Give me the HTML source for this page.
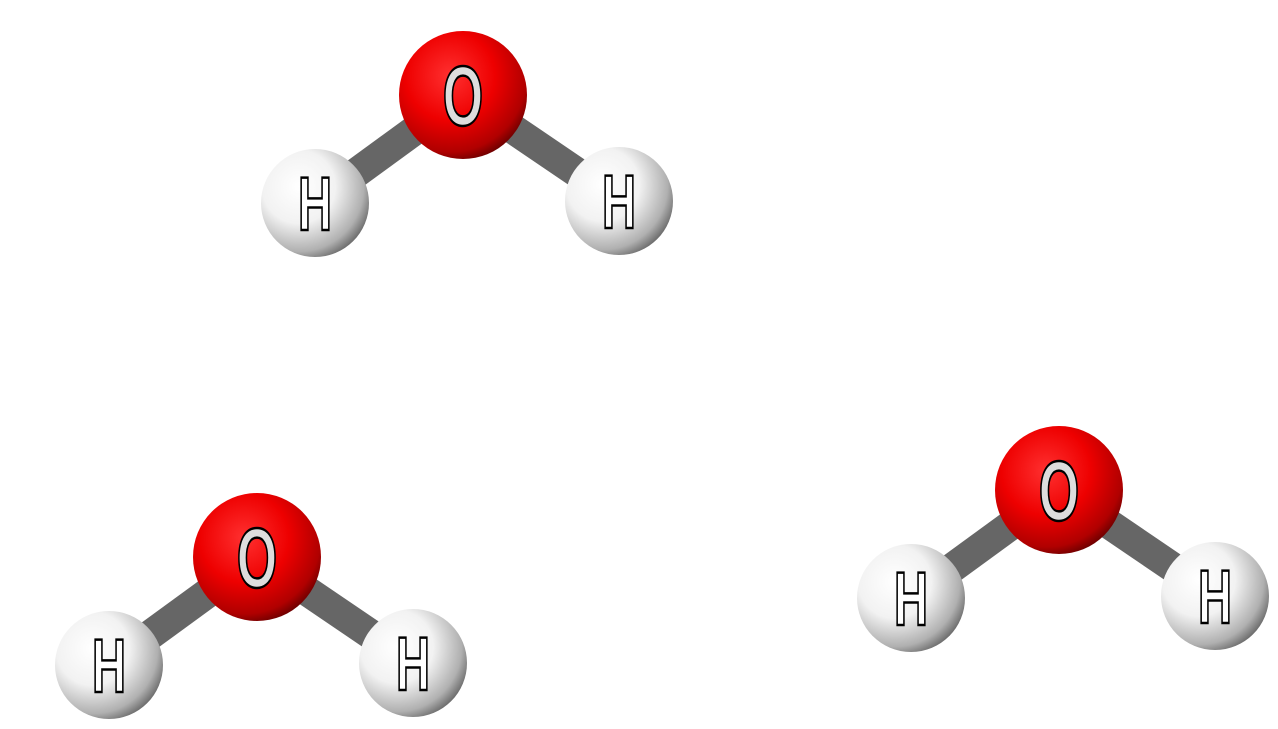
<!DOCTYPE html>
<html><head><meta charset="utf-8"><style>
html,body{margin:0;padding:0;background:#fff;width:1278px;height:729px;overflow:hidden}
svg{display:block}
text{font-family:"Liberation Sans",sans-serif;font-weight:bold}
</style></head><body>
<svg width="1278" height="729" viewBox="0 0 1278 729">
<defs>
<radialGradient id="og" cx="0.4" cy="0.35" r="0.7">
<stop offset="0" stop-color="#ff3030"/><stop offset="0.5" stop-color="#ee0000"/><stop offset="0.85" stop-color="#b00000"/><stop offset="1" stop-color="#600000"/>
</radialGradient>
<radialGradient id="hg" cx="0.35" cy="0.35" r="0.75">
<stop offset="0" stop-color="#ffffff"/><stop offset="0.45" stop-color="#f2f2f2"/><stop offset="0.8" stop-color="#b0b0b0"/><stop offset="1" stop-color="#555"/>
</radialGradient>
<linearGradient id="bgl" gradientUnits="userSpaceOnUse" x1="-10" y1="-14" x2="10" y2="14">
<stop offset="0" stop-color="#8a8a8a"/><stop offset="0.5" stop-color="#666"/><stop offset="1" stop-color="#3a3a3a"/>
</linearGradient>
</defs>

<g transform="translate(463,95)">
<line x1="0" y1="0" x2="-148" y2="108" stroke="#666" stroke-width="30"/>
<line x1="0" y1="0" x2="156" y2="106" stroke="#666" stroke-width="30"/>
<circle cx="-148" cy="108" r="54" fill="url(#hg)"/>
<circle cx="156" cy="106" r="54" fill="url(#hg)"/>
<circle cx="0" cy="0" r="64" fill="url(#og)"/>
<text transform="translate(0,30) scale(0.62,1)" text-anchor="middle" font-size="84" fill="#ddd" stroke="#000" stroke-width="2.5">O</text>
<text transform="translate(-148,135) scale(0.62,1)" text-anchor="middle" font-size="76" fill="#fff" stroke="#000" stroke-width="2.5">H</text>
<text transform="translate(156,133) scale(0.62,1)" text-anchor="middle" font-size="76" fill="#fff" stroke="#000" stroke-width="2.5">H</text>
</g>

<g transform="translate(257,557)">
<line x1="0" y1="0" x2="-148" y2="108" stroke="#666" stroke-width="30"/>
<line x1="0" y1="0" x2="156" y2="106" stroke="#666" stroke-width="30"/>
<circle cx="-148" cy="108" r="54" fill="url(#hg)"/>
<circle cx="156" cy="106" r="54" fill="url(#hg)"/>
<circle cx="0" cy="0" r="64" fill="url(#og)"/>
<text transform="translate(0,30) scale(0.62,1)" text-anchor="middle" font-size="84" fill="#ddd" stroke="#000" stroke-width="2.5">O</text>
<text transform="translate(-148,135) scale(0.62,1)" text-anchor="middle" font-size="76" fill="#fff" stroke="#000" stroke-width="2.5">H</text>
<text transform="translate(156,133) scale(0.62,1)" text-anchor="middle" font-size="76" fill="#fff" stroke="#000" stroke-width="2.5">H</text>
</g>

<g transform="translate(1059,490)">
<line x1="0" y1="0" x2="-148" y2="108" stroke="#666" stroke-width="30"/>
<line x1="0" y1="0" x2="156" y2="106" stroke="#666" stroke-width="30"/>
<circle cx="-148" cy="108" r="54" fill="url(#hg)"/>
<circle cx="156" cy="106" r="54" fill="url(#hg)"/>
<circle cx="0" cy="0" r="64" fill="url(#og)"/>
<text transform="translate(0,30) scale(0.62,1)" text-anchor="middle" font-size="84" fill="#ddd" stroke="#000" stroke-width="2.5">O</text>
<text transform="translate(-148,135) scale(0.62,1)" text-anchor="middle" font-size="76" fill="#fff" stroke="#000" stroke-width="2.5">H</text>
<text transform="translate(156,133) scale(0.62,1)" text-anchor="middle" font-size="76" fill="#fff" stroke="#000" stroke-width="2.5">H</text>
</g>
</svg>
</body></html>
